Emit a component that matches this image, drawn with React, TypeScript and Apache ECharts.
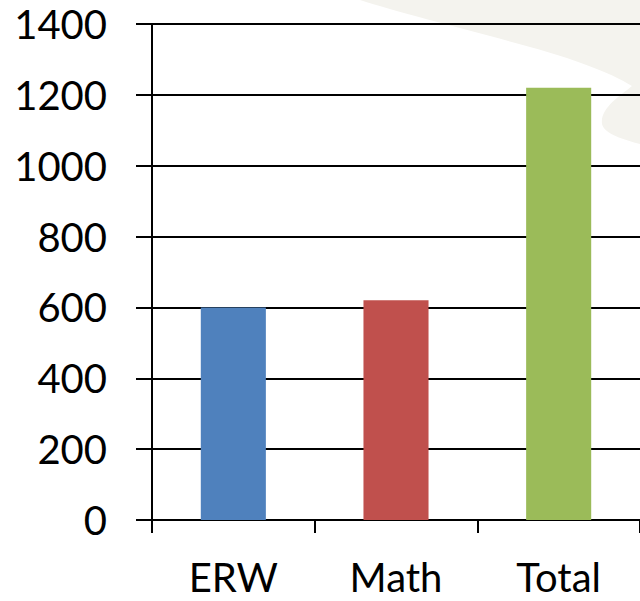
import React, { useEffect, useRef } from "react";
import * as echarts from "echarts";

const categories = ["ERW", "Math", "Total"];
const scores = [600, 620, 1220];
const barColors = ["#4f81bd", "#c0504d", "#9bbb59"];
const yMin = 0;
const yMax = 1400;
const yInterval = 200;

const bgPath =
  "M360,0 C400,13 470,30 530,47 C570,58 610,72 632,86 C620,96 600,108 602,124 C604,134 625,140 640,144 L640,0 Z";
let registered = false;

export default function App() {
  const ref = useRef<HTMLDivElement>(null);
  useEffect(() => {
    if (!ref.current) return;
    if (!registered) {
      echarts.graphic.registerShape("bgshape", echarts.graphic.extendPath(bgPath, {}) as any);
      registered = true;
    }
    const chart = echarts.init(ref.current, null, { renderer: "svg" });
    const font = "Lato, 'Open Sans', sans-serif";
    chart.setOption({
      animation: false,
      backgroundColor: "#ffffff",
      graphic: [
        {
          type: "bgshape",
          x: 0,
          y: 0,
          z: -10,
          silent: true,
          style: { fill: "#f4f3ee" },
        },
      ],
      grid: { left: 152, top: 24, width: 489, height: 496, containLabel: false },
      xAxis: {
        type: "category",
        data: categories,
        axisLine: { show: true, lineStyle: { color: "#000", width: 2 } },
        axisTick: { show: true, length: 13, lineStyle: { color: "#000", width: 2 } },
        axisLabel: { color: "#000", fontSize: 40, lineHeight: 36, fontFamily: font, margin: 39 },
        splitLine: { show: false },
      },
      yAxis: {
        type: "value",
        min: yMin,
        max: yMax,
        interval: yInterval,
        axisLine: { show: true, lineStyle: { color: "#000", width: 2 } },
        axisTick: { show: true, length: 16, lineStyle: { color: "#000", width: 2 } },
        axisLabel: {
          color: "#000",
          fontSize: 40,
          fontFamily: font,
          margin: 45,
          formatter: (v: number) => String(v),
        },
        splitLine: { show: true, lineStyle: { color: "#000", width: 2 } },
      },
      series: [
        {
          type: "bar",
          barWidth: "40%",
          data: scores.map((v, i) => ({ value: v, itemStyle: { color: barColors[i] } })),
        },
      ],
    });
    return () => chart.dispose();
  }, []);
  return (
    <div
      ref={ref}
      style={{ position: "fixed", left: 0, top: 0, width: 640, height: 601 }}
    />
  );
}
